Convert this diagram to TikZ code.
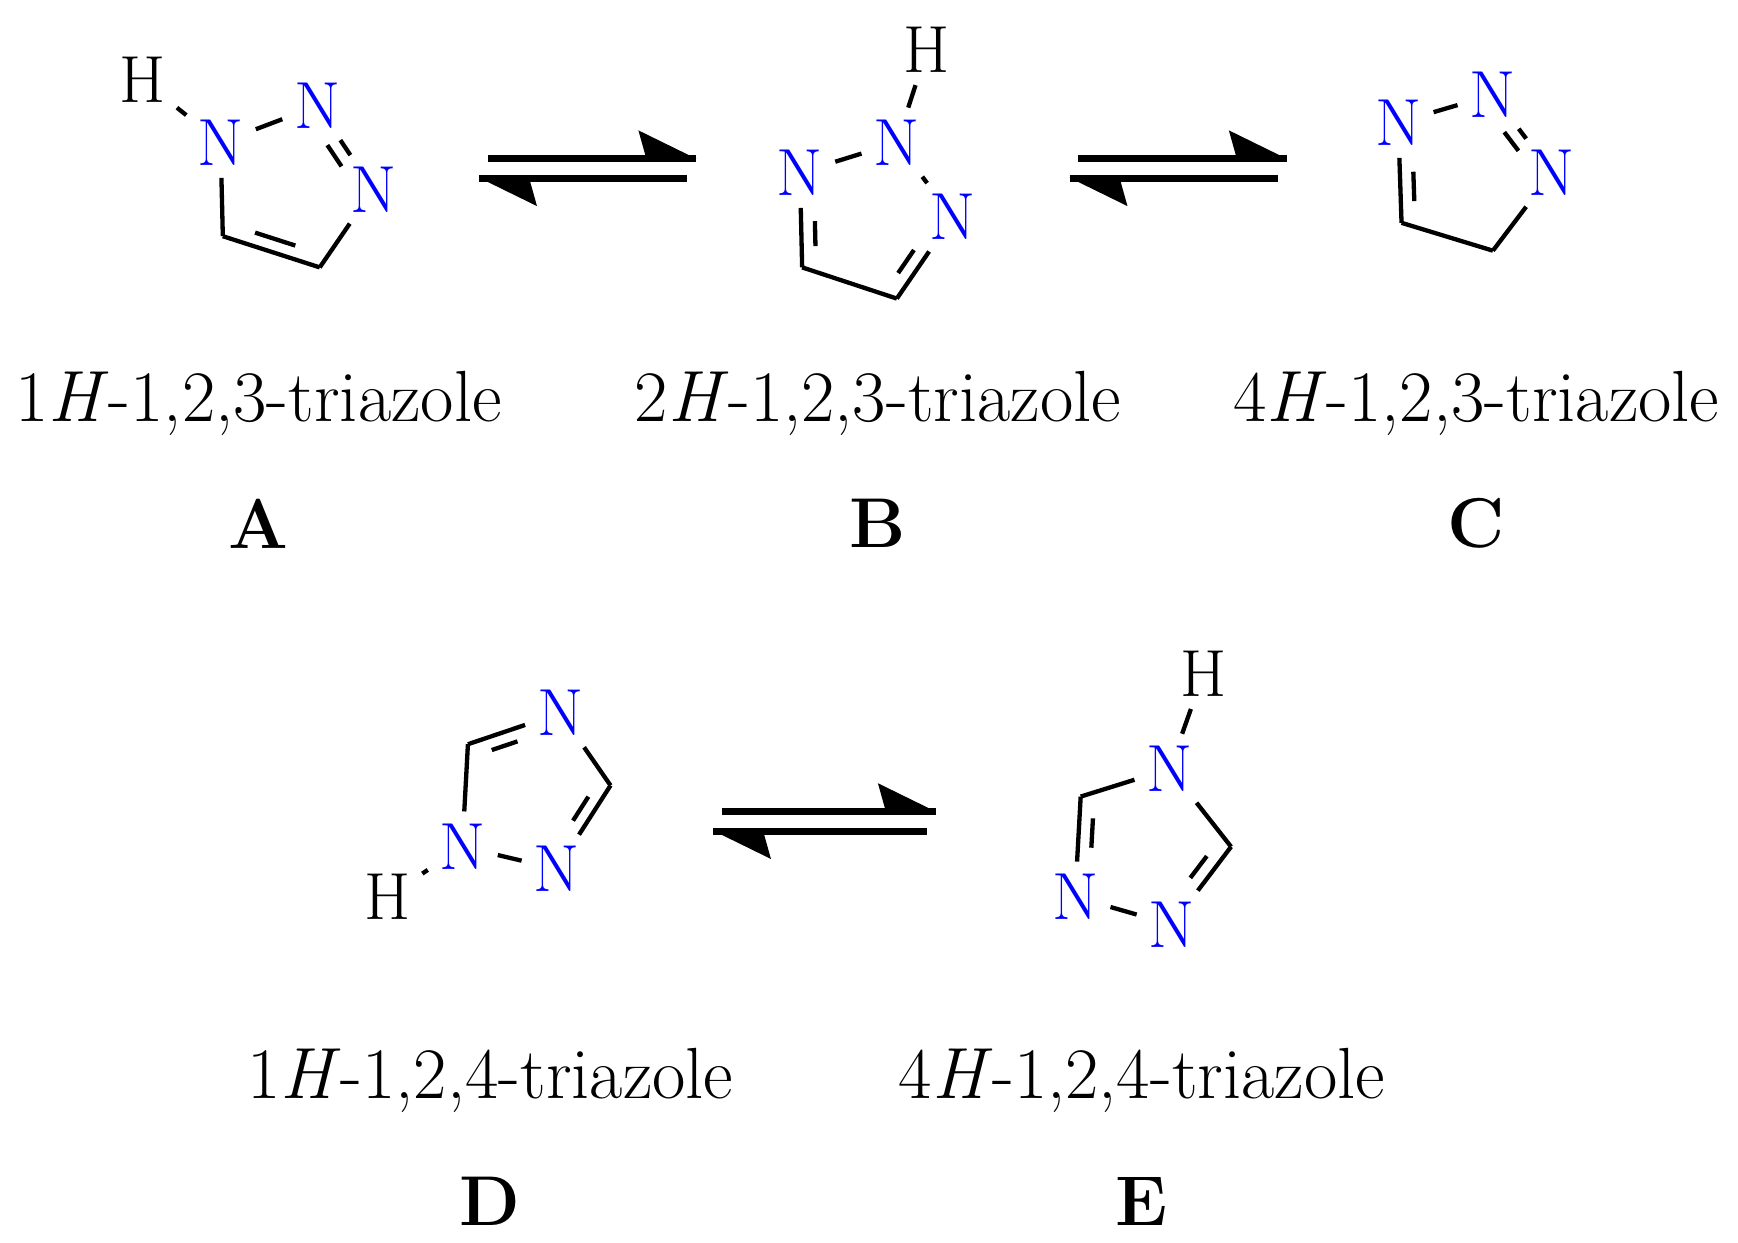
\documentclass[tikz,border=0pt]{standalone}
\usetikzlibrary{calc}
\begin{document}
\begin{tikzpicture}[x=0.01cm,y=-0.01cm,
  atomN/.style={text=blue,inner sep=1.5pt,font=\fontsize{17}{20}\selectfont},
  atomH/.style={text=black,inner sep=1.5pt,font=\fontsize{17}{20}\selectfont},
  bond/.style={line width=1.1pt,shorten <=1.5pt,shorten >=1.5pt},
  inbond/.style={line width=1.1pt},
  lbl/.style={font=\fontsize{18.5}{22}\selectfont},
  capl/.style={font=\fontsize{18}{22}\selectfont\bfseries}]
\useasboundingbox (0,0) rectangle (1560,1115);
\newcommand{\dbl}[5]{\draw[inbond,shorten <=#4,shorten >=#5] ($(#1)!0.2!(#3)$) -- ($(#2)!0.2!(#3)$);}
\newcommand{\eqarrow}[3]{% x1 x2 y
  \coordinate (t1) at (#1+8,#3-9); \coordinate (t2) at (#2,#3-9);
  \coordinate (b1) at (#1,#3+9); \coordinate (b2) at (#2-8,#3+9);
  \draw[line width=1.8pt] (t1) -- (t2);
  \fill ($(t2)+(-52,-25)$) -- ($(t2)+(0,0.5)$) -- ($(t2)+(-45,0)$) -- cycle;
  \draw[line width=1.8pt] (b1) -- (b2);
  \fill ($(b1)+(52,25)$) -- ($(b1)+(0,-0.5)$) -- ($(b1)+(45,0)$) -- cycle;}
% ---- A
\node[atomH] (aH) at (128,72) {H};
\node[atomN] (a1) at (198,128) {N};
\node[atomN] (a2) at (285,95) {N};
\node[atomN] (a3) at (335,170) {N};
\coordinate (a4) at (287,240); \coordinate (a5) at (200,212); \coordinate (ac) at (261,169);
\draw[bond] (aH)--(a1); \draw[bond] (a1)--(a2); \draw[bond] (a2)--(a3);
\draw[bond,shorten >=0pt] (a3)--(a4); \draw[bond,shorten >=0pt,shorten <=0pt] (a4)--(a5); \draw[bond,shorten >=0pt] (a1)--(a5);
\dbl{a2}{a3}{ac}{7pt}{7pt}
\dbl{a5}{a4}{ac}{5pt}{5pt}
\node[lbl] (la) at (232,362) {1\textit{H}-1,2,3-triazole};
\node[capl] (ca) at (232,470) {A};
\eqarrow{430}{625}{151}
% ---- B
\node[atomH] (bH) at (832,45) {H};
\node[atomN] (b2) at (805,128) {N};
\node[atomN] (b1) at (718,155) {N};
\node[atomN] (b3) at (855,195) {N};
\coordinate (b4) at (805,268); \coordinate (b5) at (720,240); \coordinate (bc) at (781,197);
\draw[bond] (bH)--(b2); \draw[bond] (b1)--(b2); \draw[bond] (b2)--(b3);
\draw[bond,shorten >=0pt] (b3)--(b4); \draw[bond,shorten >=0pt,shorten <=0pt] (b4)--(b5); \draw[bond,shorten >=0pt] (b1)--(b5);
\dbl{b1}{b5}{bc}{10pt}{3pt}
\dbl{b3}{b4}{bc}{10pt}{3pt}
\node[lbl] (lb) at (788,362) {2\textit{H}-1,2,3-triazole};
\node[capl] (cb) at (788,470) {B};
\eqarrow{960}{1155}{151}
% ---- C
\node[atomN] (c1) at (1255,110) {N};
\node[atomN] (c2) at (1340,85) {N};
\node[atomN] (c3) at (1393,155) {N};
\coordinate (c4) at (1340,225); \coordinate (c5) at (1258,200); \coordinate (cc) at (1317,155);
\draw[bond] (c1)--(c2); \draw[bond] (c2)--(c3);
\draw[bond,shorten >=0pt] (c3)--(c4); \draw[bond,shorten >=0pt,shorten <=0pt] (c4)--(c5); \draw[bond,shorten >=0pt] (c1)--(c5);
\dbl{c1}{c5}{cc}{10pt}{3pt}
\dbl{c2}{c3}{cc}{7pt}{7pt}
\node[lbl] (lc) at (1325,362) {4\textit{H}-1,2,3-triazole};
\node[capl] (ccap) at (1325,470) {C};
% ---- D
\node[atomN] (d4) at (503,640) {N};
\node[atomN] (d2) at (500,780) {N};
\node[atomN] (d1) at (415,760) {N};
\node[atomH] (dH) at (348,805) {H};
\coordinate (d3) at (548,705); \coordinate (d5) at (420,668); \coordinate (dc) at (477,711);
\draw[bond] (dH)--(d1); \draw[bond] (d1)--(d2);
\draw[bond,shorten >=0pt] (d4)--(d3); \draw[bond,shorten >=0pt] (d2)--(d3);
\draw[bond,shorten >=0pt] (d4)--(d5); \draw[bond,shorten >=0pt] (d1)--(d5);
\dbl{d4}{d5}{dc}{10pt}{3pt}
\dbl{d2}{d3}{dc}{10pt}{3pt}
\node[lbl] (ld) at (440,970) {1\textit{H}-1,2,4-triazole};
\node[capl] (cd) at (440,1078) {D};
\eqarrow{640}{840}{737}
% ---- E
\node[atomH] (eH) at (1080,605) {H};
\node[atomN] (e4) at (1050,690) {N};
\node[atomN] (e2) at (1052,830) {N};
\node[atomN] (e1) at (965,805) {N};
\coordinate (e3) at (1105,760); \coordinate (e5) at (970,715); \coordinate (ec) at (1028,760);
\draw[bond] (eH)--(e4); \draw[bond] (e1)--(e2);
\draw[bond,shorten >=0pt] (e4)--(e3); \draw[bond,shorten >=0pt] (e2)--(e3);
\draw[bond,shorten >=0pt] (e4)--(e5); \draw[bond,shorten >=0pt] (e1)--(e5);
\dbl{e1}{e5}{ec}{10pt}{3pt}
\dbl{e2}{e3}{ec}{10pt}{3pt}
\node[lbl] (le) at (1025,970) {4\textit{H}-1,2,4-triazole};
\node[capl] (ce) at (1025,1078) {E};
\end{tikzpicture}
\end{document}
